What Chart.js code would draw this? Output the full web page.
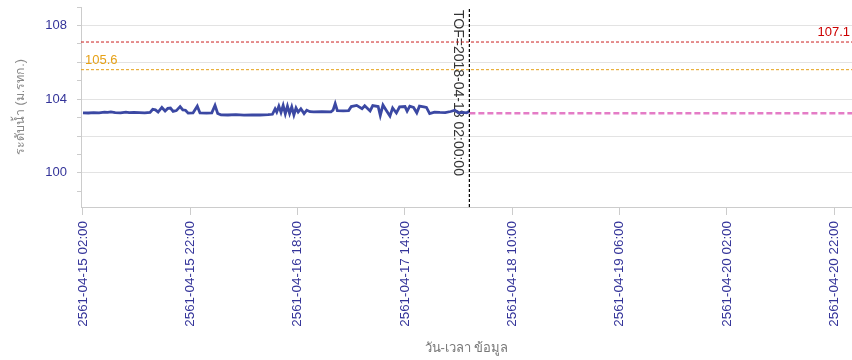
<!DOCTYPE html>
<html>
<head>
<meta charset="utf-8">
<script src="https://cdn.jsdelivr.net/npm/chart.js@4"></script>
<style>
  html, body { margin: 0; padding: 0; background: #fff; }
  #wrap { width: 852px; height: 360px; }
</style>
</head>
<body>
<div id="wrap"><canvas id="levelChart" width="852" height="360"></canvas></div>
<script>
// hours after 2561-04-15 02:00
const X_MIN = -0.37;
const X_MAX = 143.3;
const TICK_HOURS = [0, 20, 40, 60, 80, 100, 120, 140];
const TICK_LABELS = [
  "2561-04-15 02:00", "2561-04-15 22:00", "2561-04-16 18:00", "2561-04-17 14:00",
  "2561-04-18 10:00", "2561-04-19 06:00", "2561-04-20 02:00", "2561-04-20 22:00"
];
const Y_TICKS = [99, 100, 101, 102, 103, 104, 105, 106, 107, 108, 109];
const Y_LABELLED = [100, 104, 108];

// observed water level (m. MSL)
const obsHours = [
  0, 1, 2, 3, 4, 4.6, 5.2, 6, 7, 8, 8.6, 9.5, 10.5, 11.5, 12.5,
  13.0, 13.5, 14.0, 14.7, 15.3, 15.8, 16.3, 16.8, 17.4, 18.1, 18.6, 19.1, 19.6,
  20.5, 21.3, 21.8, 23.0, 24.0, 24.6, 25.1, 25.7, 27, 28.5, 30, 31.5, 33, 34.5,
  35.3, 35.8, 36.1, 36.5, 36.9, 37.3, 37.7, 38.1, 38.5, 38.9, 39.3, 39.7, 40.1,
  40.6, 41.2, 41.7, 42.3, 43.0, 44.5, 46.2, 46.6, 47.0, 47.4, 48.5, 49.5,
  50.0, 51.0, 52.0, 52.5, 53.5, 54.0, 55.0, 55.4, 55.9, 56.5, 57.2, 57.7, 58.4,
  59.0, 60.0, 60.4, 60.9, 61.6, 62.2, 62.7, 63.5, 64.0, 64.6, 65.5, 66.5, 67.5,
  68.5, 69.3, 70.0, 70.8, 71.5, 72.0
];
const obsLevel = [
  103.26, 103.25, 103.27, 103.26, 103.30, 103.28, 103.31, 103.27, 103.26, 103.30, 103.27, 103.28, 103.27, 103.26, 103.28,
  103.45, 103.42, 103.30, 103.55, 103.36, 103.50, 103.52, 103.34, 103.38, 103.60, 103.42, 103.40, 103.24,
  103.25, 103.62, 103.25, 103.24, 103.26, 103.66, 103.22, 103.15, 103.14, 103.16, 103.13, 103.15, 103.14, 103.16,
  103.18, 103.47, 103.30, 103.62, 103.28, 103.66, 103.20, 103.62, 103.22, 103.58, 103.14, 103.52, 103.30,
  103.48, 103.22, 103.40, 103.32, 103.31, 103.32, 103.31, 103.40, 103.76, 103.38, 103.36, 103.38,
  103.60, 103.66, 103.48, 103.64, 103.36, 103.65, 103.60, 103.12, 103.68, 103.40, 103.08, 103.52, 103.25,
  103.58, 103.60, 103.35, 103.62, 103.55, 103.26, 103.62, 103.58, 103.55, 103.22, 103.30, 103.28, 103.27,
  103.33, 103.40, 103.25, 103.28, 103.26, 103.34
];

// forecast
const fcHours = [72, 144];
const fcLevel = [103.24, 103.24];

const TOF_HOUR = 72;
const TOF_TEXT = "TOF=2018-04-18 02:00:00";
const BANK_LEVEL = 107.1;
const WARN_LEVEL = 105.6;

const toPoints = (xs, ys) => xs.map((x, i) => ({ x: x, y: ys[i] }));

// labels for the reference lines
const labelPlugin = {
  id: "refLabels",
  beforeDatasetsDraw(chart) {
    const { ctx, chartArea, scales } = chart;
    const xTof = scales.x.getPixelForValue(TOF_HOUR);
    ctx.save();
    ctx.font = "14px 'Liberation Sans', Arial, sans-serif";
    ctx.fillStyle = "#333";
    ctx.translate(xTof - 11.5, chartArea.top + 3);
    ctx.rotate(Math.PI / 2);
    ctx.textAlign = "left";
    ctx.textBaseline = "middle";
    ctx.fillText(TOF_TEXT, 0, 0);
    ctx.restore();
  },
  afterDatasetsDraw(chart) {
    const { ctx, chartArea, scales } = chart;
    ctx.save();
    ctx.font = "13px 'Liberation Sans', Arial, sans-serif";
    ctx.textBaseline = "alphabetic";
    ctx.fillStyle = "#cc0000";
    ctx.textAlign = "right";
    ctx.fillText(BANK_LEVEL.toFixed(1), chartArea.right - 2, scales.y.getPixelForValue(BANK_LEVEL) - 6);
    ctx.fillStyle = "#e6a117";
    ctx.textAlign = "left";
    ctx.fillText(WARN_LEVEL.toFixed(1), chartArea.left + 4, scales.y.getPixelForValue(WARN_LEVEL) - 6);
    ctx.restore();
  }
};

const ctx = document.getElementById("levelChart").getContext("2d");
new Chart(ctx, {
  type: "line",
  data: {
    datasets: [
      {
        label: "ระดับน้ำ",
        data: toPoints(obsHours, obsLevel),
        borderColor: "#3b48a3",
        borderWidth: 2.8,
        pointRadius: 0,
        tension: 0,
        order: 1
      },
      {
        label: "คาดการณ์",
        data: toPoints(fcHours, fcLevel),
        borderColor: "#e47cc6",
        borderWidth: 2.5,
        borderDash: [6, 3],
        pointRadius: 0,
        order: 2
      },
      {
        label: "ตลิ่ง",
        data: toPoints([X_MIN, X_MAX], [BANK_LEVEL, BANK_LEVEL]),
        borderColor: "#cc1f1f",
        borderWidth: 1,
        borderDash: [3, 2],
        pointRadius: 0,
        order: 3
      },
      {
        label: "เตือนภัย",
        data: toPoints([X_MIN, X_MAX], [WARN_LEVEL, WARN_LEVEL]),
        borderColor: "#e6a117",
        borderWidth: 1,
        borderDash: [3, 2],
        pointRadius: 0,
        order: 4
      },
      {
        label: "TOF",
        data: toPoints([TOF_HOUR, TOF_HOUR], [98.15, 109]),
        borderColor: "#000",
        borderWidth: 1.2,
        borderDash: [3, 2],
        pointRadius: 0,
        order: 0
      }
    ]
  },
  options: {
    responsive: false,
    animation: false,
    layout: { padding: { left: 0, right: 0, top: 7, bottom: 0 } },
    plugins: { legend: { display: false }, tooltip: { enabled: false } },
    scales: {
      x: {
        type: "linear",
        min: X_MIN,
        max: X_MAX,
        afterBuildTicks: s => { s.ticks = TICK_HOURS.map(v => ({ value: v })); },
        afterFit: s => { s.height = 153; s.paddingLeft = 0; s.paddingRight = 0; },
        border: { color: "#cccccc" },
        grid: { drawOnChartArea: false, tickLength: 8, tickColor: "#cccccc" },
        ticks: {
          autoSkip: false,
          minRotation: 90,
          maxRotation: 90,
          padding: 6,
          color: "#333399",
          font: { family: "'Liberation Sans', Arial, sans-serif", size: 13.4 },
          callback: v => TICK_LABELS[TICK_HOURS.indexOf(v)] || ""
        },
        title: {
          display: true,
          text: "วัน-เวลา ข้อมูล",
          color: "#777",
          font: { family: "'Liberation Sans', Arial, sans-serif", size: 13 },
          padding: { top: 0, bottom: 4 }
        }
      },
      y: {
        min: 98.15,
        max: 109,
        afterBuildTicks: s => { s.ticks = Y_TICKS.map(v => ({ value: v })); },
        afterFit: s => { s.width = 81; s.paddingTop = 0; s.paddingBottom = 0; },
        border: { color: "#cccccc" },
        grid: {
          tickLength: 4,
          tickColor: "#cccccc",
          color: c => (c.tick && c.tick.value % 2 === 0) ? "#e3e3e3" : "rgba(0,0,0,0)"
        },
        ticks: {
          padding: 10,
          color: "#333399",
          font: { family: "'Liberation Sans', Arial, sans-serif", size: 13 },
          callback: v => Y_LABELLED.includes(v) ? String(v) : ""
        },
        title: {
          display: true,
          text: "ระดับน้ำ (ม.รทก.)",
          color: "#888",
          font: { family: "'Liberation Sans', Arial, sans-serif", size: 12.5 },
          padding: { top: 13, bottom: 0 }
        }
      }
    }
  },
  plugins: [labelPlugin]
});
</script>
</body>
</html>
